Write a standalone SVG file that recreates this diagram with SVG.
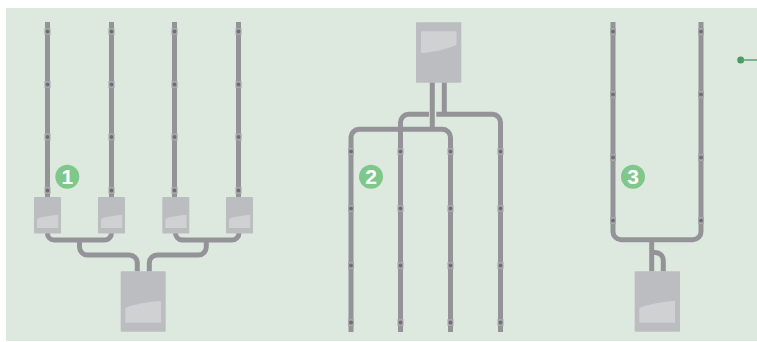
<svg xmlns="http://www.w3.org/2000/svg" width="757" height="342" viewBox="0 0 757 342">
<style>
.pipe{fill:none;stroke:#949498;stroke-width:5}
.body{fill:#bcbdc1}
.shine{fill:#d0d1d3}
.badge{fill:#7fc78a}
.num{fill:#fff;font:bold 21px "Liberation Sans",sans-serif;text-anchor:middle}
</style>
<defs>
<g id="clamp"><rect x="-3" y="-3.500" width="6" height="7" fill="#a6a7ab"/><circle r="2" fill="#6e6e74"/></g>
</defs>
<rect x="6" y="8" width="751" height="333" fill="#dde8df"/>
<g id="connectors">
<path class="pipe" d="M47.500 22V197M111.500 22V197M174.500 22V197M238.500 22V197"/>
<path class="pipe" d="M47.500 233V233.500A6.500 6.500 0 0 0 54 240H104A7 7 0 0 0 111.500 233"/>
<path class="pipe" d="M175.500 233A7 7 0 0 0 182 240H232A7 7 0 0 0 239 233"/>
<path class="pipe" d="M79.500 240V247A8 8 0 0 0 87.500 255H129A8 8 0 0 1 137.300 263V271.500"/>
<path class="pipe" d="M206.300 240V247A8 8 0 0 1 198.300 255H157.300A8 8 0 0 0 149.300 263V271.500"/>
<path class="pipe" d="M432.300 82V129M444.300 82V114.300"/>
<path class="pipe" d="M429 114.300H408.500A8 8 0 0 0 400.500 122.300V332"/>
<path class="pipe" d="M436.300 114.300H492.500A8 8 0 0 1 500.500 122.300V332"/>
<path class="pipe" d="M351 332V137.300A8 8 0 0 1 359 129.300H442.500A8 8 0 0 1 450.500 137.300V332"/>
<path class="pipe" d="M613 22V231.700A8 8 0 0 0 621 239.700H693A8 8 0 0 0 701 231.700V22"/>
<path class="pipe" d="M651.700 240V271.500M651.700 252.500H655.300A8 8 0 0 1 663.300 260.500V271.500"/>
<g id="clamps">
<use href="#clamp" x="47.500" y="31.500"/><use href="#clamp" x="47.500" y="84.500"/><use href="#clamp" x="47.500" y="137"/><use href="#clamp" x="47.500" y="190.500"/>
<use href="#clamp" x="111.500" y="31.500"/><use href="#clamp" x="111.500" y="84.500"/><use href="#clamp" x="111.500" y="137"/><use href="#clamp" x="111.500" y="190.500"/>
<use href="#clamp" x="174.500" y="31.500"/><use href="#clamp" x="174.500" y="84.500"/><use href="#clamp" x="174.500" y="137"/><use href="#clamp" x="174.500" y="190.500"/>
<use href="#clamp" x="238.500" y="31.500"/><use href="#clamp" x="238.500" y="84.500"/><use href="#clamp" x="238.500" y="137"/><use href="#clamp" x="238.500" y="190.500"/>
<use href="#clamp" x="351" y="151.500"/><use href="#clamp" x="351" y="208.500"/><use href="#clamp" x="351" y="265.500"/><use href="#clamp" x="351" y="322.500"/>
<use href="#clamp" x="400.500" y="151.500"/><use href="#clamp" x="400.500" y="208.500"/><use href="#clamp" x="400.500" y="265.500"/><use href="#clamp" x="400.500" y="322.500"/>
<use href="#clamp" x="450.500" y="151.500"/><use href="#clamp" x="450.500" y="208.500"/><use href="#clamp" x="450.500" y="265.500"/><use href="#clamp" x="450.500" y="322.500"/>
<use href="#clamp" x="500.500" y="151.500"/><use href="#clamp" x="500.500" y="208.500"/><use href="#clamp" x="500.500" y="265.500"/><use href="#clamp" x="500.500" y="322.500"/>
<use href="#clamp" x="613" y="31.500"/><use href="#clamp" x="613" y="94.500"/><use href="#clamp" x="613" y="157.500"/><use href="#clamp" x="613" y="220.500"/>
<use href="#clamp" x="701" y="31.500"/><use href="#clamp" x="701" y="94.500"/><use href="#clamp" x="701" y="157.500"/><use href="#clamp" x="701" y="220.500"/>
</g>
</g>
<g id="unit-1a"><rect class="body" x="34" y="197" width="27" height="36.500" rx="1"/><path class="shine" d="M37 219C43 216.500 51 215.200 58.300 215V228H37Z"/></g>
<g id="unit-1b"><rect class="body" x="98" y="197" width="27" height="36.500" rx="1"/><path class="shine" d="M101 219C107 216.500 115 215.200 122.300 215V228H101Z"/></g>
<g id="unit-1c"><rect class="body" x="162.300" y="197" width="27" height="36.500" rx="1"/><path class="shine" d="M165.300 219C171.300 216.500 179.300 215.200 186.600 215V228H165.300Z"/></g>
<g id="unit-1d"><rect class="body" x="226" y="197" width="27" height="36.500" rx="1"/><path class="shine" d="M229 219C235 216.500 243 215.200 250.300 215V228H229Z"/></g>
<g id="unit-1e"><rect class="body" x="120.700" y="271.300" width="45" height="60.500" rx="1"/><path class="shine" d="M125.300 308C135 304 149 301.500 161 301V322.800H125.300Z"/></g>
<g id="unit-2"><rect class="body" x="416" y="22.300" width="45.300" height="60.500" rx="1"/><path class="shine" d="M421 31.300H456.500V45C446 49.500 433 52.300 421 53Z"/></g>
<g id="unit-3"><rect class="body" x="634.700" y="271.300" width="45.300" height="60.500" rx="1"/><path class="shine" d="M639.300 308C649 304 663 301.500 675 301V322.800H639.300Z"/></g>
<g id="badge-1"><circle class="badge" cx="67.300" cy="176.800" r="12"/><text class="num" x="67.300" y="184.300">1</text></g>
<g id="badge-2"><circle class="badge" cx="371" cy="176.800" r="12"/><text class="num" x="371" y="184.300">2</text></g>
<g id="badge-3"><circle class="badge" cx="633" cy="176.800" r="12"/><text class="num" x="633" y="184.300">3</text></g>
<g id="callout"><circle cx="740.700" cy="60" r="3.500" fill="#4b9a60"/><path d="M741 60H757" stroke="#5ba570" stroke-width="1.500" fill="none"/></g>
</svg>
